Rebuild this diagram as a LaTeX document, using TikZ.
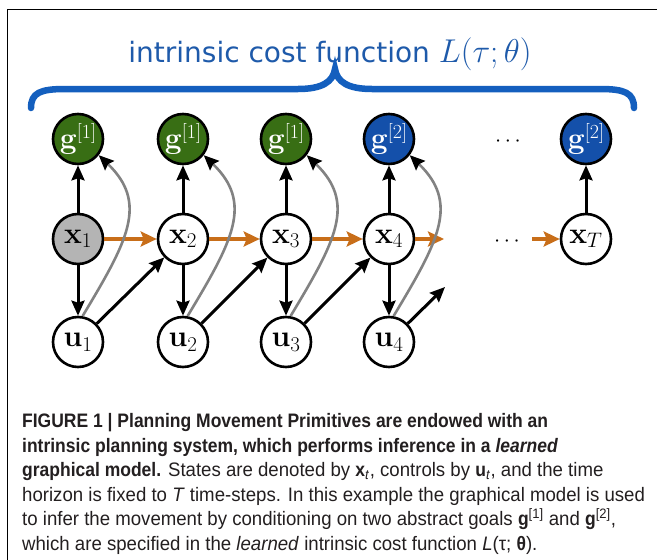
\RequirePackage{fix-cm}
\documentclass[tikz,border=0pt]{standalone}
\usepackage{fontspec}
\usetikzlibrary{arrows.meta}
\newfontfamily\titlefont{DejaVu Sans}
\newfontfamily\capfont[UprightFeatures={FakeStretch=0.955}, ItalicFeatures={FakeStretch=0.955},
  BoldFeatures={FakeStretch=0.897}, BoldItalicFeatures={FakeStretch=0.897}]{Liberation Sans}
\newcommand{\vlab}[2]{{\fontsize{30}{32}\selectfont\textbf{#1}$#2$}}
\newcommand{\glab}[1]{{\fontsize{30}{32}\selectfont\textbf{g}\raisebox{0.34em}{\fontsize{20}{21}\selectfont[#1]}}}
\definecolor{gGreen}{RGB}{56,110,20}
\definecolor{gBlue}{RGB}{20,80,170}
\definecolor{xGray}{RGB}{180,180,180}
\definecolor{braceBlue}{RGB}{20,95,190}
\definecolor{titleBlue}{RGB}{30,90,170}
\definecolor{arrOrange}{RGB}{200,110,25}
\definecolor{curveGray}{RGB}{130,130,130}
\definecolor{capText}{RGB}{35,31,32}
\tikzset{
  var/.style={circle, draw=black, line width=2.6pt, minimum size=50pt, inner sep=0pt, fill=white,
    font=\fontsize{30}{32}\selectfont},
  goalone/.style={var, fill=gGreen, text=white},
  goaltwo/.style={var, fill=gBlue, text=white},
  observed/.style={var, fill=xGray},
  blackarr/.style={line width=3pt, -{Stealth[length=15pt,width=13pt,inset=2pt]}},
  orangearr/.style={line width=3.5pt, draw=arrOrange, -{Stealth[length=16pt,width=15pt,inset=3pt,arrOrange]}},
  grayarr/.style={line width=2.6pt, draw=curveGray, -{Stealth[length=15pt,width=13pt,inset=2pt,black]}},
  capline/.style={anchor=base west, inner sep=0pt, text=capText, font=\capfont\fontsize{19.5}{24}\selectfont},
  dotsnode/.style={inner sep=0pt, font=\fontsize{22}{26}\selectfont}
}
\begin{document}
\begin{tikzpicture}[x=1pt, y=-1pt]
\useasboundingbox (0,0) rectangle (657,560);
\fill[white] (0,0) rectangle (657,560);
% frame
\draw[line width=1.6pt] (7.5,560) -- (7.5,9.5) -- (657,9.5);

% title
\node[anchor=base, inner sep=0pt, text=titleBlue, font=\titlefont\fontsize{28}{32}\selectfont] (title) at (330,62)
  {intrinsic cost function {\fontsize{33}{36}\selectfont$L(\tau;\theta)$}};
% brace
\draw[braceBlue, line width=6.5pt, line cap=round]
  (31,108) .. controls (31,93) and (40,89) .. (65,89) -- (298,89)
  .. controls (322,89) and (333,82) .. (335,69)
  .. controls (337,82) and (348,89) .. (372,89) -- (600,89)
  .. controls (625,89) and (634,93) .. (634,108);

% nodes
\node[goalone] (g1) at (78,139) {\glab{1}};
\node[goalone] (g2) at (183,139) {\glab{1}};
\node[goalone] (g3) at (286,139) {\glab{1}};
\node[goaltwo] (g4) at (389,139) {\glab{2}};
\node[goaltwo] (gT) at (586,139) {\glab{2}};
\node[dotsnode] (dg) at (508,142) {$\cdots$};

\node[observed] (x1) at (78,239) {\vlab{x}{_1}};
\node[var] (x2) at (183,239) {\vlab{x}{_2}};
\node[var] (x3) at (286,239) {\vlab{x}{_3}};
\node[var] (x4) at (389,239) {\vlab{x}{_4}};
\node[var] (xT) at (586,239) {\vlab{x}{_T}};
\node[dotsnode] (dx) at (507,242) {$\cdots$};

\node[var] (u1) at (78,342) {\vlab{u}{_1}};
\node[var] (u2) at (183,342) {\vlab{u}{_2}};
\node[var] (u3) at (286,342) {\vlab{u}{_3}};
\node[var] (u4) at (389,342) {\vlab{u}{_4}};

\coordinate (o4) at (444,239);
\coordinate (oT) at (532,239);
\coordinate (d4) at (445,287);

% orange transitions
\draw[orangearr] (x1) -- (x2);
\draw[orangearr] (x2) -- (x3);
\draw[orangearr] (x3) -- (x4);
\draw[orangearr] (x4) -- (o4);
\draw[orangearr] (oT) -- (xT);

% black arrows
\foreach \i in {1,2,3,4}{
  \draw[blackarr] (x\i) -- (g\i);
  \draw[blackarr] (x\i) -- (u\i);
}
\draw[blackarr] (xT) -- (gT);
\draw[blackarr] (u1) -- (x2);
\draw[blackarr] (u2) -- (x3);
\draw[blackarr] (u3) -- (x4);
\draw[blackarr] (u4) -- (d4);

% gray curves
\foreach \i in {1,2,3,4}{
  \draw[grayarr] (u\i.80) .. controls +(45,-75) and +(50,48) .. (g\i.-38);
}

% caption
\node[capline] (c1) at (22,427.5) {\bfseries FIGURE 1 | Planning Movement Primitives are endowed with an};
\node[capline] (c2) at (22,452) {\bfseries intrinsic planning system, which performs inference in a \textit{learned}};
\node[capline] (c3) at (22,476.5) {\textbf{graphical model.} States are denoted by \textbf{x}\textsubscript{\textit{t}}, controls by \textbf{u}\textsubscript{\textit{t}}, and the time};
\node[capline] (c4) at (22,501) {horizon is fixed to \textit{T} time-steps. In this example the graphical model is used};
\node[capline] (c5) at (22,525.5) {to infer the movement by conditioning on two abstract goals \textbf{g}\textsuperscript{[1]} and \textbf{g}\textsuperscript{[2]},};
\node[capline] (c6) at (22,550) {which are specified in the \textit{learned} intrinsic cost function \textit{L}(τ; \textbf{θ}).};
\end{tikzpicture}
\end{document}
